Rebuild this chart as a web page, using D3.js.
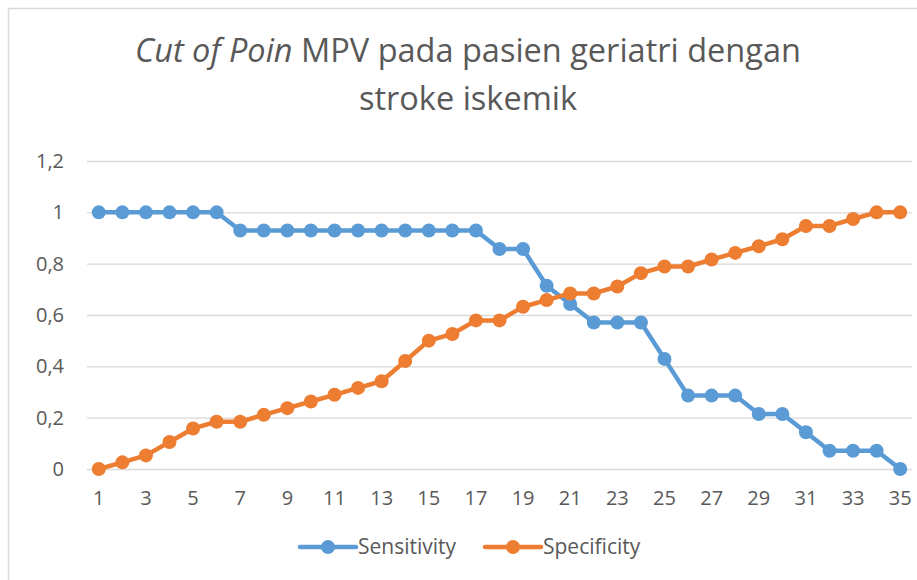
<!DOCTYPE html>
<html>
<head>
<meta charset="utf-8">
<script src="https://cdn.jsdelivr.net/npm/d3@7"></script>
<style>
  body { margin: 0; background: #fff; }
  svg text { font-family: "Open Sans", "Noto Sans", sans-serif; fill: #595959; }
</style>
</head>
<body>
<div class="chart"></div>
<script>
// cut-off points 1..35
const points = d3.range(1, 36)
const sensitivity = [
  1, 1, 1, 1, 1, 1, 0.929, 0.929, 0.929, 0.929,
  0.929, 0.929, 0.929, 0.929, 0.929, 0.929, 0.929, 0.857, 0.857, 0.714,
  0.643, 0.571, 0.571, 0.571, 0.429, 0.286, 0.286, 0.286, 0.214, 0.214,
  0.143, 0.071, 0.071, 0.071, 0
]
const specificity = [
  0, 0.026, 0.053, 0.105, 0.158, 0.184, 0.184, 0.211, 0.237, 0.263,
  0.289, 0.316, 0.342, 0.421, 0.5, 0.526, 0.579, 0.579, 0.632, 0.658,
  0.684, 0.684, 0.711, 0.763, 0.789, 0.789, 0.816, 0.842, 0.868, 0.895,
  0.947, 0.947, 0.974, 1, 1
]
const yTicks = [0, 0.2, 0.4, 0.6, 0.8, 1, 1.2]
const seriesNames = ['Sensitivity', 'Specificity']
const colors = ['#5B9BD5', '#ED7D31']

const W = 917, H = 580
const svg = d3.select('.chart').append('svg')
  .attr('width', W)
  .attr('height', H)

// chart area border
svg.append('rect')
  .attr('x', 8.5).attr('y', 8.5)
  .attr('width', W + 10).attr('height', H + 10)
  .attr('fill', '#fff')
  .attr('stroke', '#d9d9d9')
  .attr('stroke-width', 1.5)

// title
const title = svg.append('text')
  .attr('text-anchor', 'middle')
  .style('font-size', '32.5px')
const t1 = title.append('tspan').attr('x', 468).attr('y', 62)
t1.append('tspan').style('font-style', 'italic').text('Cut of Poin')
t1.append('tspan').text(' MPV pada pasien geriatri dengan')
title.append('tspan').attr('x', 468).attr('y', 110).text('stroke iskemik')

const x = d3.scaleBand()
  .domain(points)
  .range([87, 912])
  .padding(0)

const y = d3.scaleLinear()
  .domain([0, 1.2])
  .range([469, 161])

const cx = d => x(d) + x.bandwidth() / 2
const fmt = d => String(+d.toFixed(1)).replace('.', ',')

// horizontal gridlines
svg.append('g')
  .attr('transform', 'translate(87,0)')
  .call(
    d3.axisLeft(y)
      .tickValues(yTicks)
      .tickSize(-(912 - 87))
      .tickFormat('')
  )
  .call(g => g.select('.domain').remove())
  .call(g => g.selectAll('line').attr('stroke', '#d9d9d9').attr('stroke-width', 1.3))

// y labels
svg.append('g')
  .attr('transform', 'translate(64,0)')
  .call(d3.axisLeft(y).tickValues(yTicks).tickSize(0).tickPadding(0).tickFormat(fmt))
  .call(g => g.select('.domain').remove())
  .call(g => g.selectAll('text').style('font-size', '20px').style('font-family', null))

// x labels
svg.append('g')
  .attr('transform', 'translate(0,469)')
  .call(
    d3.axisBottom(x)
      .tickValues(points.filter(d => d % 2 === 1))
      .tickSize(0)
      .tickPadding(22)
  )
  .call(g => g.select('.domain').remove())
  .call(g => g.selectAll('text').style('font-size', '20px').style('font-family', null))

const line = d3.line()
  .x((d, i) => cx(points[i]))
  .y(d => y(d))

const allSeries = [sensitivity, specificity]
allSeries.forEach((vals, k) => {
  svg.append('path')
    .datum(vals)
    .attr('fill', 'none')
    .attr('stroke', colors[k])
    .attr('stroke-width', 4.5)
    .attr('stroke-linejoin', 'round')
    .attr('d', line)

  svg.append('g')
    .selectAll('circle')
    .data(vals)
    .join('circle')
    .attr('cx', (d, i) => cx(points[i]))
    .attr('cy', d => y(d))
    .attr('r', 7)
    .attr('fill', colors[k])
})

// legend
const legendX = [300, 485]
seriesNames.forEach((name, k) => {
  const g = svg.append('g').attr('transform', `translate(${legendX[k]},547)`)
  g.append('line')
    .attr('x1', 0).attr('x2', 56)
    .attr('stroke', colors[k])
    .attr('stroke-width', 4.5)
    .attr('stroke-linecap', 'round')
  g.append('circle').attr('cx', 28).attr('r', 7).attr('fill', colors[k])
  g.append('text')
    .attr('x', 58)
    .attr('dy', '0.35em')
    .style('font-size', '21px')
    .text(name)
})
</script>
</body>
</html>
